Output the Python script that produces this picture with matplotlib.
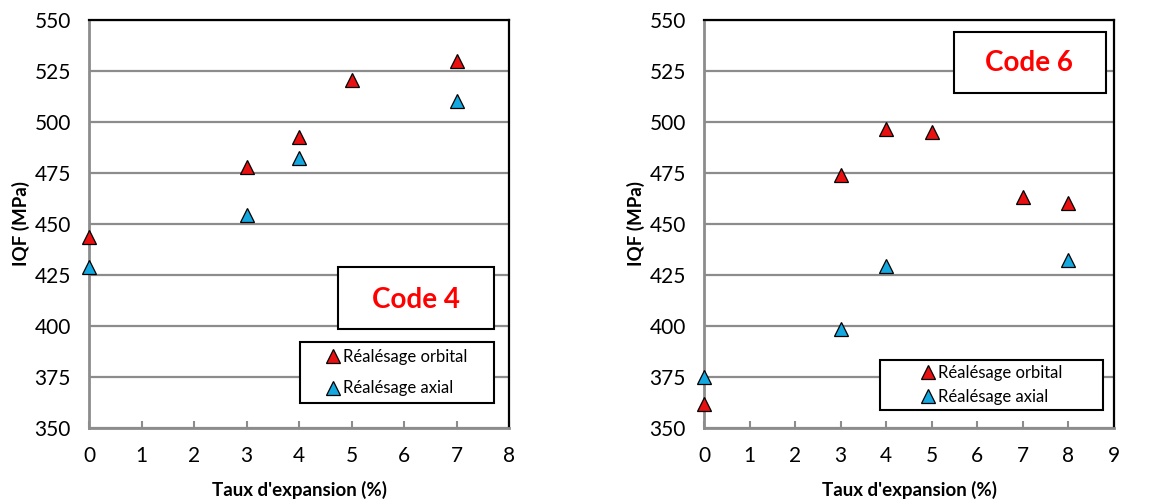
import matplotlib
matplotlib.use("Agg")
import matplotlib.pyplot as plt
from matplotlib.patches import Rectangle
from matplotlib.lines import Line2D

plt.rcParams['font.family'] = ['Lato', 'DejaVu Sans']

# Data
x4_orb = [0, 3, 4, 5, 7]
y4_orb = [443.5, 478, 492.5, 520.5, 530]
x4_ax = [0, 3, 4, 7]
y4_ax = [429, 454.5, 482.5, 510.5]

x6_orb = [0, 3, 4, 5, 7, 8]
y6_orb = [362, 474, 496.5, 495, 463, 460.5]
x6_ax = [0, 3, 4, 8]
y6_ax = [375, 398.5, 429.5, 432.5]

yticks = [350, 375, 400, 425, 450, 475, 500, 525, 550]
label_orb = "Réalésage orbital"
label_ax = "Réalésage axial"
xlabel = "Taux d'expansion (%)"
ylabel = "IQF (MPa)"

RED = '#E81010'
BLUE = '#14A8E0'
GRID = '#8C8C8C'

W, H = 1174, 501
fig = plt.figure(figsize=(W / 100, H / 100), dpi=100)


def make_axes(left_px, right_px, top_px, bottom_px):
    return fig.add_axes([left_px / W, 1 - bottom_px / H,
                         (right_px - left_px) / W, (bottom_px - top_px) / H])


def style(ax, xmax):
    ax.set_xlim(0, xmax)
    ax.set_ylim(350, 550)
    ax.set_yticks(yticks)
    ax.set_xticks(range(0, xmax + 1))
    ax.grid(axis='y', color=GRID, linewidth=1.6, zorder=0)
    ax.set_axisbelow(True)
    for s in ['left', 'bottom']:
        ax.spines[s].set_color(GRID)
        ax.spines[s].set_linewidth(2)
    for s in ['top', 'right']:
        ax.spines[s].set_color('black')
        ax.spines[s].set_linewidth(1.6)
    ax.tick_params(axis='x', direction='in', length=5, color=GRID, width=1.5,
                   labelsize=15, pad=13)
    ax.tick_params(axis='y', length=0, labelsize=15, pad=13)
    ax.set_xlabel(xlabel, fontsize=13.5, fontweight='bold', labelpad=11)
    ax.set_ylabel(ylabel, fontsize=13.5, fontweight='bold', labelpad=3)


def scatter(ax, x, y, color):
    ax.plot(x, y, linestyle='none', marker='^', markersize=10,
            markerfacecolor=color, markeredgecolor='black',
            markeredgewidth=0.9, clip_on=False, zorder=5)


def legend(ax, box, spacing):
    handles = [Line2D([], [], linestyle='none', marker='^', markersize=10,
                      markerfacecolor=RED, markeredgecolor='black',
                      markeredgewidth=0.9),
               Line2D([], [], linestyle='none', marker='^', markersize=10,
                      markerfacecolor=BLUE, markeredgecolor='black',
                      markeredgewidth=0.9)]
    x0, y0, x1, y1 = box
    ax.add_patch(Rectangle((x0, y0), x1 - x0, y1 - y0, transform=ax.transAxes,
                           facecolor='white', edgecolor='black', linewidth=1.5,
                           zorder=6, clip_on=False))
    leg = ax.legend(handles, [label_orb, label_ax], loc='center',
                    bbox_to_anchor=((x0 + x1) / 2, (y0 + y1) / 2),
                    frameon=False, fontsize=12, handlelength=0.8,
                    handletextpad=0.2, labelspacing=spacing, borderpad=0)
    leg.set_zorder(7)


def codebox(ax, box, text, tx, ty):
    x0, y0, x1, y1 = box
    ax.add_patch(Rectangle((x0, y0), x1 - x0, y1 - y0, transform=ax.transAxes,
                           facecolor='white', edgecolor='black', linewidth=1.5,
                           zorder=6, clip_on=False))
    ax.text(tx, ty, text, transform=ax.transAxes, ha='center', va='center',
            color='#FF0000', fontsize=20, fontweight='bold', zorder=7)


# Left chart
ax1 = make_axes(89, 509, 20, 428)
style(ax1, 8)
scatter(ax1, x4_orb, y4_orb, RED)
scatter(ax1, x4_ax, y4_ax, BLUE)
codebox(ax1, (0.593, 0.243, 0.964, 0.395), "Code 4", 0.778, 0.314)
legend(ax1, (0.502, 0.061, 0.964, 0.211), 0.95)

# Right chart
ax2 = make_axes(704, 1114, 20, 428)
style(ax2, 9)
scatter(ax2, x6_orb, y6_orb, RED)
scatter(ax2, x6_ax, y6_ax, BLUE)
codebox(ax2, (0.610, 0.821, 0.980, 0.971), "Code 6", 0.793, 0.895)
legend(ax2, (0.429, 0.044, 0.973, 0.167), 0.45)

fig.savefig("out.png", dpi=100)
